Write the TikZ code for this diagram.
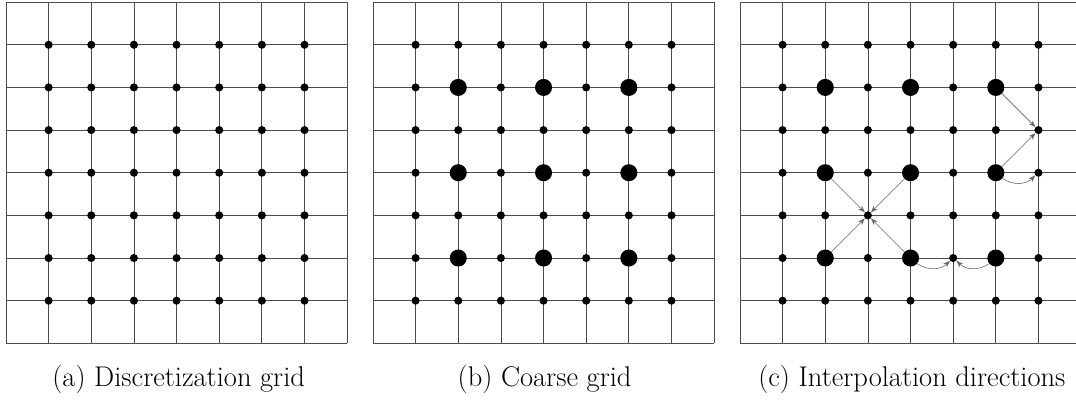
\documentclass[tikz,border=0pt]{standalone}
\usepackage{tikz}
\usetikzlibrary{arrows.meta, positioning, calc}

\begin{document}
\begin{tikzpicture}[
    gridline/.style={draw=black!70, line width=0.5pt},
    finept/.style={circle, fill=black, inner sep=0pt, minimum size=1.9mm},
    coarsept/.style={circle, fill=black, inner sep=0pt, minimum size=4mm},
    interp/.style={-{Stealth[length=1.6mm, width=1.2mm]}, draw=black!60, line width=0.4pt},
    caption/.style={font=\fontsize{19}{23}\selectfont, anchor=base}
]
\useasboundingbox (-0.14,-1.41) rectangle (25.09,8.05);

% fine grids with all unknowns
\foreach \p/\off in {a/0, b/8.605, c/17.21} {
  \begin{scope}[xshift=\off cm]
    \draw[gridline] (0,0) grid (8,8);
    \foreach \i in {1,...,7}
      \foreach \j in {1,...,7}
        \node[finept] (\p-\i-\j) at (\i,\j) {};
  \end{scope}
}

% coarse points
\foreach \p/\off in {b/8.605, c/17.21}
  \foreach \i in {2,4,6}
    \foreach \j in {2,4,6}
      \node[coarsept] (\p-\i-\j) at (\off+\i,\j) {};

% interpolation directions
\draw[interp] (c-6-6) -- (c-7-5);
\draw[interp] (c-6-4) -- (c-7-5);
\draw[interp] (c-6-4) to[bend right=40] (c-7-4);
\draw[interp] (c-2-4) -- (c-3-3);
\draw[interp] (c-4-4) -- (c-3-3);
\draw[interp] (c-2-2) -- (c-3-3);
\draw[interp] (c-4-2) -- (c-3-3);
\draw[interp] (c-4-2) to[bend right=40] (c-5-2);
\draw[interp] (c-6-2) to[bend left=40] (c-5-2);

\node[caption] (cap-a) at (4.05,-1.01) {(a) Discretization grid};
\node[caption] (cap-b) at (12.63,-1.01) {(b) Coarse grid};
\node[caption] (cap-c) at (21.24,-1.01) {(c) Interpolation directions};
\end{tikzpicture}
\end{document}
